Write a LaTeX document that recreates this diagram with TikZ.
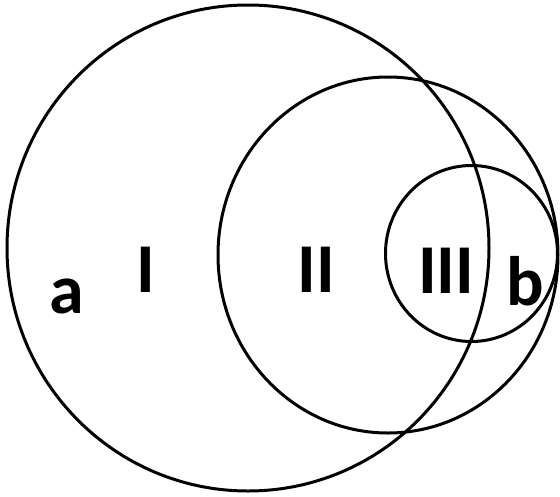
\documentclass[tikz,border=0pt]{standalone}
\usepackage{fontspec}
\setmainfont{Carlito}
\begin{document}
\begin{tikzpicture}[x=1pt,y=-1pt,
  ring/.style={draw=black,line width=3pt},
  lbl/.style={anchor=base,inner sep=0pt,font=\fontsize{70}{70}\selectfont\bfseries}]
\useasboundingbox (0,0) rectangle (560,496);
\draw[ring] (248,248) ellipse [x radius=241, y radius=243];
\draw[ring] (388,255) ellipse [x radius=170, y radius=178];
\draw[ring] (471.5,253.5) ellipse [x radius=86, y radius=88];
\node[lbl] (a) at (67,313) {a};
\node[lbl] (I) at (146,292) {I};
\node[lbl] (II) at (316,292) {II};
\node[lbl] (III) at (446,293) {III};
\node[lbl] (b) at (525,305) {b};
\end{tikzpicture}
\end{document}
